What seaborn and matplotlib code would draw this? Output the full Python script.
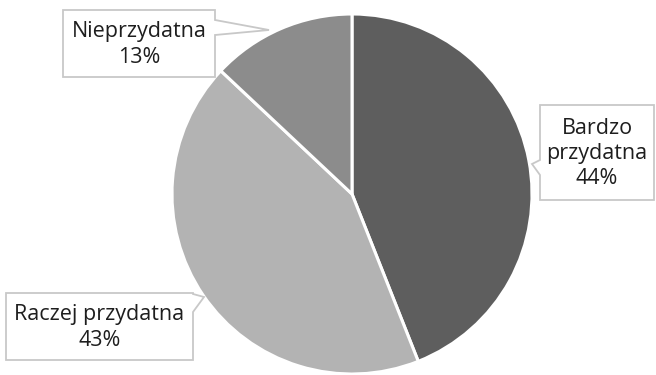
import matplotlib
matplotlib.use("Agg")
import matplotlib.pyplot as plt
from matplotlib.patches import Polygon
import seaborn as sns

# dane
labels = ["Bardzo\nprzydatna", "Raczej przydatna", "Nieprzydatna"]
values = [44, 43, 13]
colors = ["#5e5e5e", "#b3b3b3", "#8c8c8c"]

sns.set_theme(style="white")
plt.rcParams["font.family"] = ["Open Sans", "DejaVu Sans"]

W, H = 656, 375
fig = plt.figure(figsize=(W / 100, H / 100), dpi=100)
ax = fig.add_axes([0, 0, 1, 1])
ax.set_xlim(0, W)
ax.set_ylim(H, 0)  # pixel coords, y down
ax.set_aspect("equal")
ax.axis("off")

# y down -> clockwise from top
ax.pie(values, colors=colors, startangle=-90, counterclock=True,
       center=(352, 194), radius=180,
       wedgeprops=dict(edgecolor="white", linewidth=2.2))
ax.set_xlim(0, W)
ax.set_ylim(H, 0)


def callout(x0, y0, x1, y1, side, a, b, tip):
    # box with a small pointer on one side
    if side == "right":
        pts = [(x0, y0), (x1, y0), (x1, a), tip, (x1, b), (x1, y1), (x0, y1)]
    else:
        pts = [(x0, y0), (x1, y0), (x1, y1), (x0, y1), (x0, b), tip, (x0, a)]
    ax.add_patch(Polygon(pts, closed=True, fc="white", ec="#c8c8c8", lw=1.3, zorder=5))


boxes = [
    dict(box=(540, 105, 654, 200), side="left", a=160, b=175, tip=(532, 164)),
    dict(box=(6, 293, 193, 360), side="right", a=294, b=312, tip=(204, 297)),
    dict(box=(63, 10, 215, 77), side="right", a=20, b=35, tip=(269, 30)),
]

for lab, v, bx in zip(labels, values, boxes):
    x0, y0, x1, y1 = bx["box"]
    callout(x0, y0, x1, y1, bx["side"], bx["a"], bx["b"], bx["tip"])
    ax.text((x0 + x1) / 2, (y0 + y1) / 2 + 1, f"{lab}\n{v}%", ha="center", va="center",
            fontsize=15.5, color="#1e1e1e", linespacing=1.28, zorder=6)

fig.savefig("out.png", dpi=100, facecolor="white")
